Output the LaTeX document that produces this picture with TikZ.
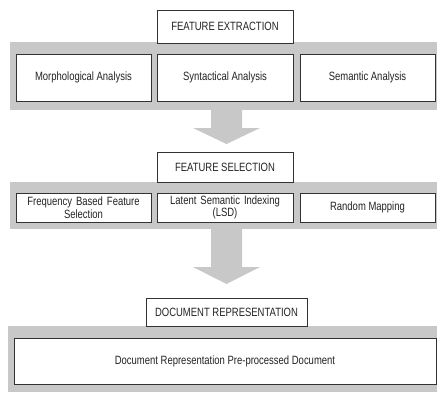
\documentclass[tikz,border=0pt]{standalone}
\usepackage{fontspec}
\setmainfont{Liberation Sans}[FakeStretch=0.79]
\usetikzlibrary{calc}
\definecolor{bandgray}{RGB}{200,200,200}
\definecolor{linegray}{RGB}{50,50,50}
\definecolor{txtgray}{RGB}{35,35,35}
\begin{document}
\begin{tikzpicture}[x=1pt,y=-1pt,
  every node/.style={inner sep=0pt,outer sep=0pt,font=\fontsize{12}{13.5}\selectfont,text=txtgray},
  band/.style={fill=bandgray,draw=none},
  wbox/.style={fill=white,draw=linegray,line width=0.9pt,align=center},
  arrowfill/.style={fill=bandgray}]
\useasboundingbox (0,0) rectangle (437,392);
% --- stage 1
\node[band,minimum width=427,minimum height=68] (b1) at (223.5,76) {};
\node[wbox,minimum width=136,minimum height=33] (t1) at (225,26.5) {FEATURE EXTRACTION};
\node[wbox,minimum width=135,minimum height=47] (m1) at (83.5,77.5) {Morphological Analysis};
\node[wbox,minimum width=136,minimum height=47] (m2) at (225,77.5) {Syntactical Analysis};
\node[wbox,minimum width=135,minimum height=47] (m3) at (367.5,77.5) {Semantic Analysis};
% --- stage 2
\node[band,minimum width=427,minimum height=47] (b2) at (223.5,205.5) {};
\node[wbox,minimum width=136,minimum height=30] (t2) at (225,167) {FEATURE SELECTION};
\node[wbox,minimum width=135,minimum height=29,text width=125] (s1) at (83.5,207.5) {Frequency Based Feature\\[-1pt]Selection};
\node[wbox,minimum width=136,minimum height=29,text width=126] (s2) at (225,207.5) {Latent Semantic Indexing\\[-1pt](LSD)};
\node[wbox,minimum width=135,minimum height=29] (s3) at (367.5,207.5) {Random Mapping};
% --- stage 3
\node[band,minimum width=429,minimum height=66] (b3) at (222.5,359) {};
\node[wbox,minimum width=161,minimum height=28] (t3) at (226.5,312) {DOCUMENT REPRESENTATION};
\node[wbox,minimum width=422,minimum height=46] (d1) at (225,361) {Document Representation Pre-processed Document};
% --- arrows
\fill[arrowfill] ($(b1.south -| t2.north)+(-14,0)$) -- ++(0,18) -- ++(-18,0)
  -- ($(t2.north)+(1.5,-8)$) -- ($(b1.south -| t2.north)+(35,18)$) -- ++(-18,0) -- ++(0,-18) -- cycle;
\fill[arrowfill] ($(b2.south -| t3.north)+(-15.5,0)$) -- ++(0,38) -- ++(-18,0)
  -- ($(t3.north)+(0,-14)$) -- ($(b2.south -| t3.north)+(33.5,38)$) -- ++(-18,0) -- ++(0,-38) -- cycle;
\end{tikzpicture}
\end{document}
